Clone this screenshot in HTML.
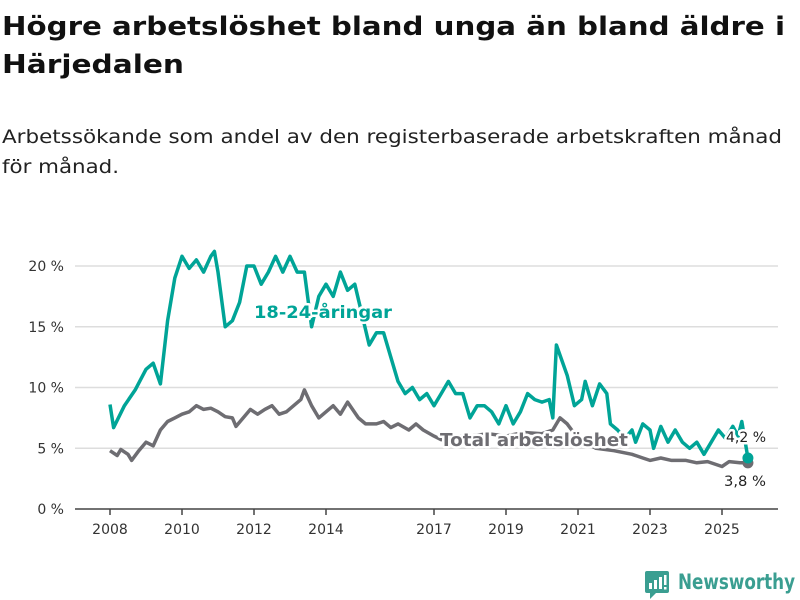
<!DOCTYPE html>
<html><head><meta charset="utf-8"><style>
body{margin:0;background:#fff;}
svg{display:block;font-family:"DejaVu Sans","Liberation Sans",sans-serif;}
</style></head><body>
<svg id="chart" width="800" height="600" viewBox="0 0 800 600" xmlns="http://www.w3.org/2000/svg">
<text x="2" y="35" font-size="26" font-weight="bold" fill="#111" textLength="783" lengthAdjust="spacingAndGlyphs">Högre arbetslöshet bland unga än bland äldre i</text>
<text x="2" y="73" font-size="26" font-weight="bold" fill="#111" textLength="182" lengthAdjust="spacingAndGlyphs">Härjedalen</text>
<text x="2" y="143" font-size="19" fill="#222" textLength="780" lengthAdjust="spacingAndGlyphs">Arbetssökande som andel av den registerbaserade arbetskraften månad</text>
<text x="2" y="173" font-size="19" fill="#222" textLength="117" lengthAdjust="spacingAndGlyphs">för månad.</text>
<g id="grid"></g><g id="xaxis"></g><g id="series"></g><g id="labels"></g>
<g>
<rect x="645" y="571" width="24" height="22" rx="2" fill="#3a9e91"/>
<path d="M650 593 L650 599 L656 593 Z" fill="#3a9e91"/>
<rect x="649" y="583" width="3" height="6" fill="#fff"/><rect x="654" y="580" width="3" height="9" fill="#fff"/><rect x="659" y="577" width="3" height="12" fill="#fff"/><rect x="664" y="575" width="2.5" height="10" fill="#fff"/><rect x="664" y="587" width="2.5" height="2.5" fill="#fff"/>
<text x="678" y="589" font-size="21" font-weight="bold" fill="#3a9e91" textLength="117" lengthAdjust="spacingAndGlyphs">Newsworthy</text>
</g>
</svg>
<script>
const yTicks=[0,5,10,15,20];
const yTickLabels=["0 %","5 %","10 %","15 %","20 %"];
const xTicks=[2008,2010,2012,2014,2017,2019,2021,2023,2025];
const youthT=[2008.0,2008.1,2008.4,2008.7,2009.0,2009.2,2009.4,2009.6,2009.8,2010.0,2010.2,2010.4,2010.6,2010.8,2010.9,2011.0,2011.2,2011.4,2011.6,2011.8,2012.0,2012.2,2012.4,2012.6,2012.8,2013.0,2013.2,2013.4,2013.6,2013.8,2014.0,2014.2,2014.4,2014.6,2014.8,2015.0,2015.2,2015.4,2015.6,2015.8,2016.0,2016.2,2016.4,2016.6,2016.8,2017.0,2017.2,2017.4,2017.6,2017.8,2018.0,2018.2,2018.4,2018.6,2018.8,2019.0,2019.2,2019.4,2019.6,2019.8,2020.0,2020.2,2020.3,2020.4,2020.7,2020.9,2021.1,2021.2,2021.4,2021.6,2021.8,2021.9,2022.1,2022.3,2022.5,2022.6,2022.8,2023.0,2023.1,2023.3,2023.5,2023.7,2023.9,2024.1,2024.3,2024.5,2024.7,2024.9,2025.1,2025.3,2025.45,2025.55,2025.72];
const youthV=[8.6,6.7,8.5,9.8,11.5,12,10.3,15.5,19,20.8,19.8,20.5,19.5,20.8,21.2,19.5,15,15.5,17,20,20,18.5,19.5,20.8,19.5,20.8,19.5,19.5,15,17.5,18.5,17.5,19.5,18,18.5,16,13.5,14.5,14.5,12.5,10.5,9.5,10,9,9.5,8.5,9.5,10.5,9.5,9.5,7.5,8.5,8.5,8,7,8.5,7,8,9.5,9,8.8,9,7.5,13.5,11,8.5,9,10.5,8.5,10.3,9.5,7,6.5,5.8,6.5,5.5,7,6.5,5,6.8,5.5,6.5,5.5,5,5.5,4.5,5.5,6.5,5.8,6.8,6,7.2,4.2];
const totalT=[2008.0,2008.2,2008.3,2008.5,2008.6,2008.8,2009.0,2009.2,2009.4,2009.6,2009.8,2010.0,2010.2,2010.4,2010.6,2010.8,2011.0,2011.2,2011.4,2011.5,2011.7,2011.9,2012.1,2012.3,2012.5,2012.7,2012.9,2013.1,2013.3,2013.4,2013.6,2013.8,2014.0,2014.2,2014.4,2014.6,2014.9,2015.1,2015.4,2015.6,2015.8,2016.0,2016.3,2016.5,2016.7,2017.0,2017.2,2017.4,2018.0,2018.5,2019.0,2019.5,2020.0,2020.3,2020.5,2020.7,2021.0,2021.5,2022.0,2022.5,2022.8,2023.0,2023.3,2023.6,2024.0,2024.3,2024.6,2025.0,2025.2,2025.5,2025.72];
const totalV=[4.8,4.4,4.9,4.5,4.0,4.8,5.5,5.2,6.5,7.2,7.5,7.8,8,8.5,8.2,8.3,8,7.6,7.5,6.8,7.5,8.2,7.8,8.2,8.5,7.8,8,8.5,9,9.8,8.5,7.5,8.0,8.5,7.8,8.8,7.5,7,7,7.2,6.7,7,6.5,7,6.5,6,5.7,6,6,6.2,6,6.3,6.2,6.5,7.5,7,5.8,5,4.8,4.5,4.2,4,4.2,4,4,3.8,3.9,3.5,3.9,3.8,3.8];
const NS="http://www.w3.org/2000/svg";
const xS=t=>110+(t-2008)*36;
const yS=v=>509-v*12.15;
function mk(tag,attrs,parent){const e=document.createElementNS(NS,tag);for(const k in attrs)e.setAttribute(k,attrs[k]);parent.appendChild(e);return e;}
const grid=document.getElementById('grid');
yTicks.forEach((v,i)=>{
 if(v>0){const l=mk('line',{x1:75,x2:778,y1:yS(v),y2:yS(v),stroke:'#ddd','stroke-width':1.5},grid);
 
 }
 const t=mk('text',{x:64,y:yS(v)+5,'text-anchor':'end','font-size':14,fill:'#333'},grid);
 
 
 t.textContent=yTickLabels[i];
});
const xa=document.getElementById('xaxis');
const ax=mk('line',{x1:75,x2:778,y1:509,y2:509,stroke:'#444','stroke-width':1.5},xa);


xTicks.forEach(y=>{
 mk('line',{x1:xS(y),x2:xS(y),y1:509,y2:515,stroke:'#444','stroke-width':1.5},xa);
 const t=mk('text',{x:xS(y),y:534,'text-anchor':'middle','font-size':14,fill:'#333'},xa);
 
 
 t.textContent=y;
});
const sg=document.getElementById('series');
function line(T,V,col,name){
 const d=T.map((t,i)=>(i?'L':'M')+xS(t).toFixed(1)+' '+yS(V[i]).toFixed(1)).join(' ');
 const p=mk('path',{d:d,fill:'none',stroke:col,'stroke-width':3.5,'stroke-linejoin':'round'},sg);
 
 
 const n=T.length-1;
 const c=mk('circle',{cx:xS(T[n]),cy:yS(V[n]),r:5.5,fill:col},sg);
 
 
}
line(totalT,totalV,'#6e6d72','total-line');
line(youthT,youthV,'#00a497','youth-line');
const lg=document.getElementById('labels');
function lab(x,y,txt,col,name,size,w,bold,anchor){
 const t=mk('text',{x:x,y:y,'font-size':size,fill:col,'font-weight':bold?'bold':'normal','text-anchor':anchor||'start',stroke:'#fff','stroke-width':5,'paint-order':'stroke','stroke-linejoin':'round',textLength:w,lengthAdjust:'spacingAndGlyphs'},lg);
 
 
 t.textContent=txt;
}
lab(254,318,'18-24-åringar','#00a497','youth-series-label',17,138,true);
lab(440,446,'Total arbetslöshet','#6e6d72','total-series-label',18,188,true);
lab(726,442,'4,2 %','#222','youth-end-value',14,40,false);
lab(724,486,'3,8 %','#222','total-end-value',14,42,false);
</script>
</body></html>
